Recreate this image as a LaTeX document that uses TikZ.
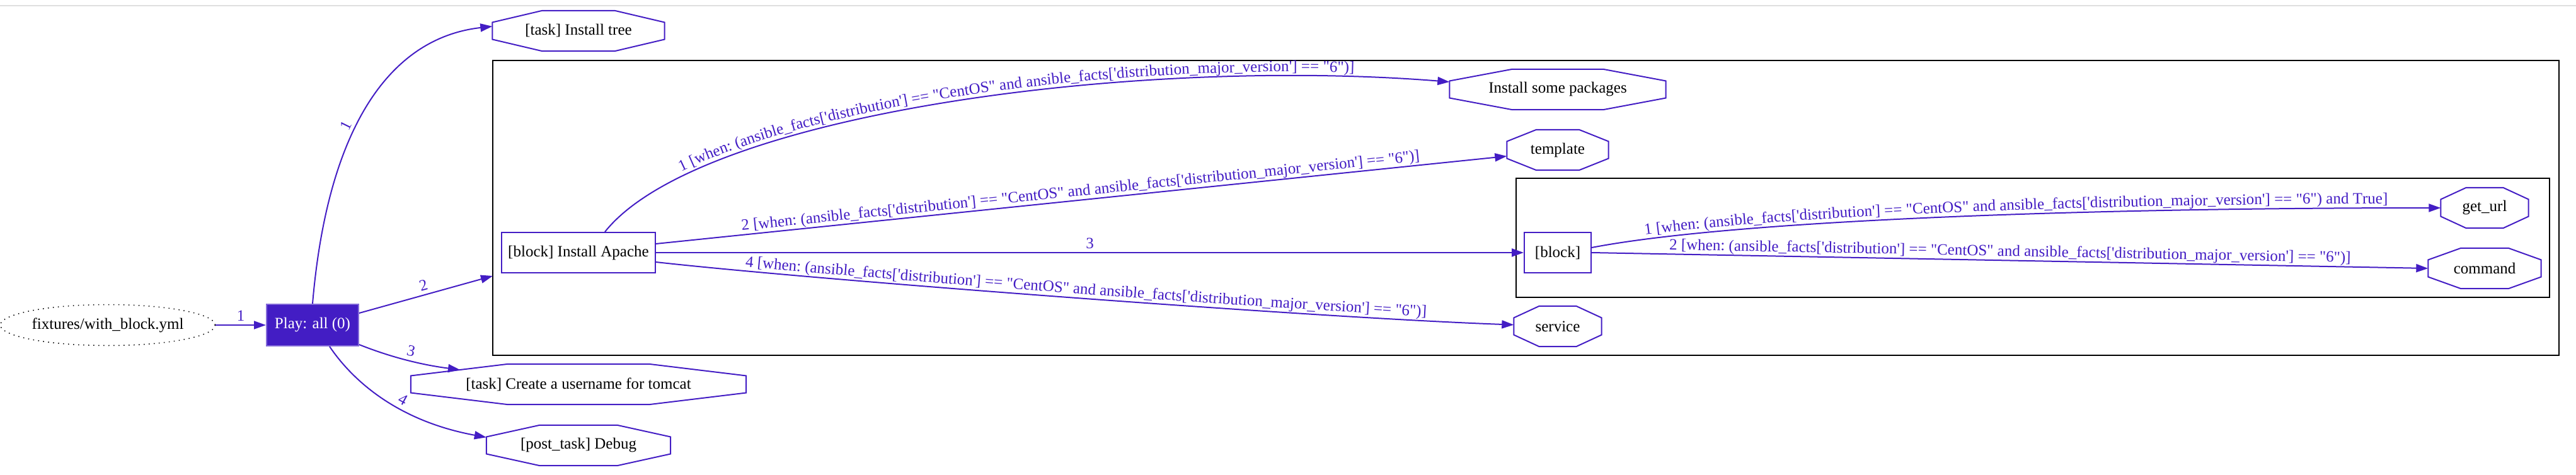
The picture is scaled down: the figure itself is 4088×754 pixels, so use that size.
\documentclass[tikz,border=0pt]{standalone}
\usepackage{fontspec}
\setmainfont{Liberation Serif}[Ligatures=TeXOff]
\usetikzlibrary{arrows.meta,calc,shapes.geometric,decorations.text}
\definecolor{playc}{RGB}{67,29,196}
\begin{document}
\fontsize{25}{30}\selectfont
\begin{tikzpicture}[x=1pt,y=-1pt,
    edge/.style={draw=playc,line width=2pt,-{Triangle[length=19pt,width=13pt]}},
    lbl/.style={postaction={decorate},decoration={text along path,text align=center,raise=7pt,text={|\color{playc}|#1}}},
    oct/.style={rectangle,inner sep=0pt,minimum width=#1,minimum height=64pt},
    octline/.style={draw=playc,line width=2pt,line join=miter},
    blockbox/.style={rectangle,draw=playc,line width=2pt,inner sep=0pt,minimum height=64pt},
    cluster/.style={draw=black,line width=2pt}]
    \useasboundingbox (0,0) rectangle (4088,754);
    %% page rule
    \draw[gray!25,line width=1.5pt] (0,9) -- (4088,9);
    %% clusters
    \draw[cluster] (782,96) rectangle (4061,564);
    \draw[cluster] (2406,283) rectangle (4046,472);
    %% playbook and play
    \node[ellipse,draw,line width=1.5pt,dash pattern=on 1.5pt off 6.5pt,minimum width=340pt,minimum height=65pt,inner sep=0pt] (book) at (171,516) {fixtures/with\_block.yml};
    \node[rectangle,fill=playc,draw=playc!65!white,line width=2pt,text=white,minimum width=146pt,minimum height=66pt,inner sep=0pt] (play) at (496,516) {Play: all (0)};
    %% tasks of the play
    \node[oct=273pt] (tree) at (918,49) {[task] Install tree};
    \node[blockbox,minimum width=244pt] (apache) at (918,401) {[block] Install Apache};
    \node[oct=532pt] (user) at (918,610) {[task] Create a username for tomcat};
    \node[oct=292pt] (debug) at (918,707) {[post\_task] Debug};
    %% inside the block
    \node[oct=343pt] (pkgs) at (2472,142) {Install some packages};
    \node[oct=161pt] (tmpl) at (2472,238) {template};
    \node[blockbox,minimum width=106pt] (blk) at (2472,401) {[block]};
    \node[oct=139pt] (service) at (2472,518) {service};
    \node[oct=139pt] (geturl) at (3943,330) {get\_url};
    \node[oct=179pt] (command) at (3943,426) {command};
    %% octagon outlines
    \foreach \n in {tree,user,debug,pkgs,tmpl,service,geturl,command}
        \draw[octline] ($(\n.north west)!.29!(\n.north east)$) -- ($(\n.north west)!.71!(\n.north east)$)
            -- ($(\n.north east)!.29!(\n.south east)$) -- ($(\n.north east)!.71!(\n.south east)$)
            -- ($(\n.south west)!.71!(\n.south east)$) -- ($(\n.south west)!.29!(\n.south east)$)
            -- ($(\n.north west)!.71!(\n.south west)$) -- ($(\n.north west)!.29!(\n.south west)$) -- cycle;
    \coordinate (apin) at (782,438);
    \coordinate (userin) at (730,587);
    %% connect
    \draw[edge,lbl={1}] (book) -- (play);
    \draw[edge,lbl={1}] (play.north) .. controls (520,200) and (620,60) .. (tree.177);
    \draw[edge,lbl={2}] ([yshift=19pt]play.east) -- (apin);
    \draw[edge,lbl={3}] ([yshift=3pt]play.south east) .. controls (610,563) and (660,578) .. (userin);
    \draw[edge,lbl={4}] ([xshift=27pt]play.south) .. controls (565,612) and (640,670) .. (debug.175);
    \draw[edge,lbl={1 [when: (ansible{\_}facts['distribution'] == "CentOS" and ansible{\_}facts['distribution{\_}major{\_}version'] == "6")]}] ([xshift=42pt]apache.north) .. controls (1110,180) and (1800,90) .. (pkgs.176);
    \draw[edge,lbl={2 [when: (ansible{\_}facts['distribution'] == "CentOS" and ansible{\_}facts['distribution{\_}major{\_}version'] == "6")]}] ([yshift=14pt]apache.east) -- (tmpl.187);
    \draw[edge,lbl={3}] (apache.east) -- (blk.west);
    \draw[edge,lbl={4 [when: (ansible{\_}facts['distribution'] == "CentOS" and ansible{\_}facts['distribution{\_}major{\_}version'] == "6")]}] ([yshift=-15pt]apache.east) .. controls (1300,445) and (2100,505) .. (service.178);
    \draw[edge,lbl={1 [when: (ansible{\_}facts['distribution'] == "CentOS" and ansible{\_}facts['distribution{\_}major{\_}version'] == "6") and True]}] ([yshift=8pt]blk.east) .. controls (2750,350) and (3300,330) .. (geturl.west);
    \draw[edge,lbl={2 [when: (ansible{\_}facts['distribution'] == "CentOS" and ansible{\_}facts['distribution{\_}major{\_}version'] == "6")]}] (blk.east) -- (command.west);
\end{tikzpicture}
\end{document}
